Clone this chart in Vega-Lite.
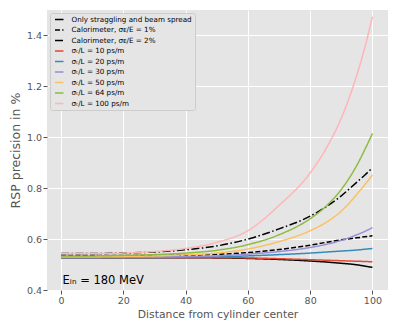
{
  "$schema": "https://vega.github.io/schema/vega-lite/v6.json",
  "width": 341,
  "height": 280,
  "autosize": {"type": "none"},
  "padding": {"left": 47, "top": 10, "right": 11, "bottom": 42},
  "background": "white",
  "config": {
    "font": "DejaVu Sans",
    "view": {"fill": "#E5E5E5", "stroke": null},
    "axis": {
      "grid": true, "gridColor": "white", "gridWidth": 1, "domain": false,
      "tickColor": "#555555", "tickSize": 4, "labelColor": "#555555", "labelFontSize": 9.5,
      "titleColor": "#555555", "titleFontSize": 10.8, "titleFontWeight": "normal"
    },
    "legend": {
      "title": null, "orient": "top-left", "offset": 3,
      "symbolType": "M-0.5,0H2.33", "symbolSize": 36, "symbolStrokeWidth": 1.5,
      "labelFontSize": 7.2, "labelColor": "black", "labelOffset": 11, "labelLimit": 300,
      "rowPadding": 2.5, "padding": 2.5,
      "fillColor": "#E5E5E5", "strokeColor": "#CCCCCC", "cornerRadius": 2
    }
  },
  "datasets": {
    "curves": [
      {"s": "Only straggling and beam spread", "x": 0, "y": 0.527},
      {"s": "Only straggling and beam spread", "x": 10, "y": 0.527},
      {"s": "Only straggling and beam spread", "x": 20, "y": 0.527},
      {"s": "Only straggling and beam spread", "x": 30, "y": 0.527},
      {"s": "Only straggling and beam spread", "x": 40, "y": 0.527},
      {"s": "Only straggling and beam spread", "x": 50, "y": 0.526},
      {"s": "Only straggling and beam spread", "x": 60, "y": 0.524},
      {"s": "Only straggling and beam spread", "x": 70, "y": 0.520},
      {"s": "Only straggling and beam spread", "x": 80, "y": 0.514},
      {"s": "Only straggling and beam spread", "x": 85, "y": 0.510},
      {"s": "Only straggling and beam spread", "x": 90, "y": 0.505},
      {"s": "Only straggling and beam spread", "x": 95, "y": 0.499},
      {"s": "Only straggling and beam spread", "x": 97.5, "y": 0.494},
      {"s": "Only straggling and beam spread", "x": 100, "y": 0.489},

      {"s": "Calorimeter, σᴇ/E = 1%", "x": 0, "y": 0.536},
      {"s": "Calorimeter, σᴇ/E = 1%", "x": 10, "y": 0.536},
      {"s": "Calorimeter, σᴇ/E = 1%", "x": 20, "y": 0.536},
      {"s": "Calorimeter, σᴇ/E = 1%", "x": 30, "y": 0.536},
      {"s": "Calorimeter, σᴇ/E = 1%", "x": 40, "y": 0.537},
      {"s": "Calorimeter, σᴇ/E = 1%", "x": 50, "y": 0.540},
      {"s": "Calorimeter, σᴇ/E = 1%", "x": 60, "y": 0.547},
      {"s": "Calorimeter, σᴇ/E = 1%", "x": 70, "y": 0.559},
      {"s": "Calorimeter, σᴇ/E = 1%", "x": 80, "y": 0.576},
      {"s": "Calorimeter, σᴇ/E = 1%", "x": 85, "y": 0.587},
      {"s": "Calorimeter, σᴇ/E = 1%", "x": 90, "y": 0.597},
      {"s": "Calorimeter, σᴇ/E = 1%", "x": 95, "y": 0.605},
      {"s": "Calorimeter, σᴇ/E = 1%", "x": 97.5, "y": 0.609},
      {"s": "Calorimeter, σᴇ/E = 1%", "x": 100, "y": 0.613},

      {"s": "Calorimeter, σᴇ/E = 2%", "x": 0, "y": 0.543},
      {"s": "Calorimeter, σᴇ/E = 2%", "x": 10, "y": 0.543},
      {"s": "Calorimeter, σᴇ/E = 2%", "x": 20, "y": 0.545},
      {"s": "Calorimeter, σᴇ/E = 2%", "x": 30, "y": 0.549},
      {"s": "Calorimeter, σᴇ/E = 2%", "x": 40, "y": 0.558},
      {"s": "Calorimeter, σᴇ/E = 2%", "x": 50, "y": 0.573},
      {"s": "Calorimeter, σᴇ/E = 2%", "x": 60, "y": 0.600},
      {"s": "Calorimeter, σᴇ/E = 2%", "x": 70, "y": 0.640},
      {"s": "Calorimeter, σᴇ/E = 2%", "x": 80, "y": 0.690},
      {"s": "Calorimeter, σᴇ/E = 2%", "x": 85, "y": 0.726},
      {"s": "Calorimeter, σᴇ/E = 2%", "x": 90, "y": 0.770},
      {"s": "Calorimeter, σᴇ/E = 2%", "x": 95, "y": 0.824},
      {"s": "Calorimeter, σᴇ/E = 2%", "x": 97.5, "y": 0.851},
      {"s": "Calorimeter, σᴇ/E = 2%", "x": 100, "y": 0.880},

      {"s": "σₜ/L = 10 ps/m", "x": 0, "y": 0.528},
      {"s": "σₜ/L = 10 ps/m", "x": 10, "y": 0.528},
      {"s": "σₜ/L = 10 ps/m", "x": 20, "y": 0.528},
      {"s": "σₜ/L = 10 ps/m", "x": 30, "y": 0.528},
      {"s": "σₜ/L = 10 ps/m", "x": 40, "y": 0.528},
      {"s": "σₜ/L = 10 ps/m", "x": 50, "y": 0.527},
      {"s": "σₜ/L = 10 ps/m", "x": 60, "y": 0.526},
      {"s": "σₜ/L = 10 ps/m", "x": 70, "y": 0.523},
      {"s": "σₜ/L = 10 ps/m", "x": 80, "y": 0.519},
      {"s": "σₜ/L = 10 ps/m", "x": 85, "y": 0.517},
      {"s": "σₜ/L = 10 ps/m", "x": 90, "y": 0.515},
      {"s": "σₜ/L = 10 ps/m", "x": 95, "y": 0.513},
      {"s": "σₜ/L = 10 ps/m", "x": 97.5, "y": 0.512},
      {"s": "σₜ/L = 10 ps/m", "x": 100, "y": 0.511},

      {"s": "σₜ/L = 20 ps/m", "x": 0, "y": 0.528},
      {"s": "σₜ/L = 20 ps/m", "x": 10, "y": 0.528},
      {"s": "σₜ/L = 20 ps/m", "x": 20, "y": 0.528},
      {"s": "σₜ/L = 20 ps/m", "x": 30, "y": 0.528},
      {"s": "σₜ/L = 20 ps/m", "x": 40, "y": 0.529},
      {"s": "σₜ/L = 20 ps/m", "x": 50, "y": 0.530},
      {"s": "σₜ/L = 20 ps/m", "x": 60, "y": 0.534},
      {"s": "σₜ/L = 20 ps/m", "x": 70, "y": 0.539},
      {"s": "σₜ/L = 20 ps/m", "x": 80, "y": 0.545},
      {"s": "σₜ/L = 20 ps/m", "x": 85, "y": 0.549},
      {"s": "σₜ/L = 20 ps/m", "x": 90, "y": 0.553},
      {"s": "σₜ/L = 20 ps/m", "x": 95, "y": 0.557},
      {"s": "σₜ/L = 20 ps/m", "x": 97.5, "y": 0.560},
      {"s": "σₜ/L = 20 ps/m", "x": 100, "y": 0.563},

      {"s": "σₜ/L = 30 ps/m", "x": 0, "y": 0.528},
      {"s": "σₜ/L = 30 ps/m", "x": 10, "y": 0.528},
      {"s": "σₜ/L = 30 ps/m", "x": 20, "y": 0.529},
      {"s": "σₜ/L = 30 ps/m", "x": 30, "y": 0.529},
      {"s": "σₜ/L = 30 ps/m", "x": 40, "y": 0.531},
      {"s": "σₜ/L = 30 ps/m", "x": 50, "y": 0.534},
      {"s": "σₜ/L = 30 ps/m", "x": 60, "y": 0.541},
      {"s": "σₜ/L = 30 ps/m", "x": 70, "y": 0.551},
      {"s": "σₜ/L = 30 ps/m", "x": 80, "y": 0.567},
      {"s": "σₜ/L = 30 ps/m", "x": 85, "y": 0.579},
      {"s": "σₜ/L = 30 ps/m", "x": 90, "y": 0.595},
      {"s": "σₜ/L = 30 ps/m", "x": 95, "y": 0.617},
      {"s": "σₜ/L = 30 ps/m", "x": 97.5, "y": 0.630},
      {"s": "σₜ/L = 30 ps/m", "x": 100, "y": 0.645},

      {"s": "σₜ/L = 50 ps/m", "x": 0, "y": 0.531},
      {"s": "σₜ/L = 50 ps/m", "x": 10, "y": 0.531},
      {"s": "σₜ/L = 50 ps/m", "x": 20, "y": 0.532},
      {"s": "σₜ/L = 50 ps/m", "x": 30, "y": 0.534},
      {"s": "σₜ/L = 50 ps/m", "x": 40, "y": 0.538},
      {"s": "σₜ/L = 50 ps/m", "x": 50, "y": 0.545},
      {"s": "σₜ/L = 50 ps/m", "x": 60, "y": 0.561},
      {"s": "σₜ/L = 50 ps/m", "x": 70, "y": 0.590},
      {"s": "σₜ/L = 50 ps/m", "x": 80, "y": 0.633},
      {"s": "σₜ/L = 50 ps/m", "x": 85, "y": 0.665},
      {"s": "σₜ/L = 50 ps/m", "x": 90, "y": 0.710},
      {"s": "σₜ/L = 50 ps/m", "x": 95, "y": 0.776},
      {"s": "σₜ/L = 50 ps/m", "x": 97.5, "y": 0.813},
      {"s": "σₜ/L = 50 ps/m", "x": 100, "y": 0.852},

      {"s": "σₜ/L = 64 ps/m", "x": 0, "y": 0.534},
      {"s": "σₜ/L = 64 ps/m", "x": 10, "y": 0.534},
      {"s": "σₜ/L = 64 ps/m", "x": 20, "y": 0.536},
      {"s": "σₜ/L = 64 ps/m", "x": 30, "y": 0.539},
      {"s": "σₜ/L = 64 ps/m", "x": 40, "y": 0.545},
      {"s": "σₜ/L = 64 ps/m", "x": 50, "y": 0.556},
      {"s": "σₜ/L = 64 ps/m", "x": 60, "y": 0.578},
      {"s": "σₜ/L = 64 ps/m", "x": 70, "y": 0.617},
      {"s": "σₜ/L = 64 ps/m", "x": 80, "y": 0.680},
      {"s": "σₜ/L = 64 ps/m", "x": 85, "y": 0.728},
      {"s": "σₜ/L = 64 ps/m", "x": 90, "y": 0.795},
      {"s": "σₜ/L = 64 ps/m", "x": 95, "y": 0.890},
      {"s": "σₜ/L = 64 ps/m", "x": 97.5, "y": 0.950},
      {"s": "σₜ/L = 64 ps/m", "x": 100, "y": 1.015},

      {"s": "σₜ/L = 100 ps/m", "x": 0, "y": 0.543},
      {"s": "σₜ/L = 100 ps/m", "x": 10, "y": 0.543},
      {"s": "σₜ/L = 100 ps/m", "x": 20, "y": 0.545},
      {"s": "σₜ/L = 100 ps/m", "x": 30, "y": 0.551},
      {"s": "σₜ/L = 100 ps/m", "x": 40, "y": 0.563},
      {"s": "σₜ/L = 100 ps/m", "x": 50, "y": 0.587},
      {"s": "σₜ/L = 100 ps/m", "x": 60, "y": 0.633},
      {"s": "σₜ/L = 100 ps/m", "x": 70, "y": 0.732},
      {"s": "σₜ/L = 100 ps/m", "x": 80, "y": 0.860},
      {"s": "σₜ/L = 100 ps/m", "x": 85, "y": 0.953},
      {"s": "σₜ/L = 100 ps/m", "x": 90, "y": 1.075},
      {"s": "σₜ/L = 100 ps/m", "x": 95, "y": 1.245},
      {"s": "σₜ/L = 100 ps/m", "x": 97.5, "y": 1.350},
      {"s": "σₜ/L = 100 ps/m", "x": 100, "y": 1.474}
    ]
  },
  "layer": [
    {
      "data": {"name": "curves"},
      "mark": {"type": "line", "interpolate": "monotone", "strokeWidth": 1.5, "clip": true},
      "encoding": {
        "x": {
          "field": "x", "type": "quantitative",
          "scale": {"domain": [-4.5, 105], "nice": false, "zero": false},
          "axis": {"values": [0, 20, 40, 60, 80, 100], "title": "Distance from cylinder center", "labelPadding": 1.5, "titlePadding": 3}
        },
        "y": {
          "field": "y", "type": "quantitative",
          "scale": {"domain": [0.4, 1.5], "nice": false, "zero": false},
          "axis": {"values": [0.4, 0.6, 0.8, 1.0, 1.2, 1.4], "format": ".1f", "title": "RSP precision in %", "titleFontSize": 12.5, "labelPadding": 1.5, "titlePadding": 4}
        },
        "color": {
          "field": "s", "type": "nominal",
          "scale": {
            "domain": ["Only straggling and beam spread", "Calorimeter, σᴇ/E = 1%", "Calorimeter, σᴇ/E = 2%", "σₜ/L = 10 ps/m", "σₜ/L = 20 ps/m", "σₜ/L = 30 ps/m", "σₜ/L = 50 ps/m", "σₜ/L = 64 ps/m", "σₜ/L = 100 ps/m"],
            "range": ["black", "black", "black", "#E24A33", "#348ABD", "#988ED5", "#FBC15E", "#8EBA42", "#FFB5B8"]
          }
        },
        "strokeDash": {
          "field": "s", "type": "nominal",
          "scale": {
            "domain": ["Only straggling and beam spread", "Calorimeter, σᴇ/E = 1%", "Calorimeter, σᴇ/E = 2%", "σₜ/L = 10 ps/m", "σₜ/L = 20 ps/m", "σₜ/L = 30 ps/m", "σₜ/L = 50 ps/m", "σₜ/L = 64 ps/m", "σₜ/L = 100 ps/m"],
            "range": [[1, 0], [5, 2.2], [8, 2.5, 1.5, 2.5], [1, 0], [1, 0], [1, 0], [1, 0], [1, 0], [1, 0]]
          }
        }
      }
    },
    {
      "data": {"values": [{"label": "Eᵢₙ = 180 MeV", "x": 0.5, "y": 0.435}]},
      "mark": {"type": "text", "align": "left", "baseline": "middle", "fontSize": 11.5, "color": "black"},
      "encoding": {
        "x": {"field": "x", "type": "quantitative"},
        "y": {"field": "y", "type": "quantitative"},
        "text": {"field": "label"}
      }
    }
  ]
}
